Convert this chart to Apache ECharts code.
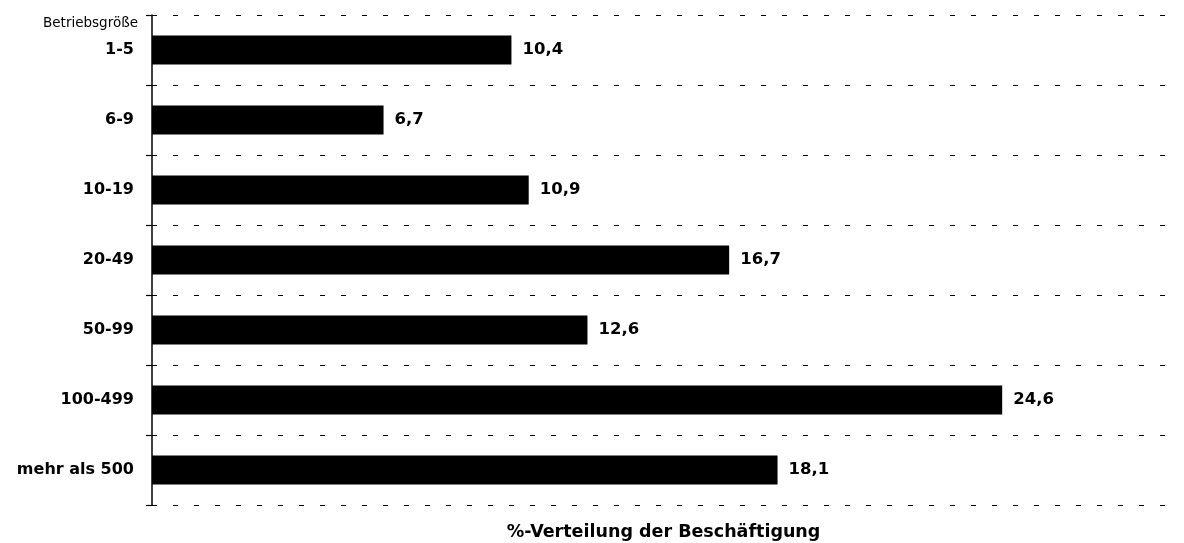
<!DOCTYPE html>
<html>
<head>
<meta charset="utf-8">
<script src="https://cdn.jsdelivr.net/npm/echarts@6/dist/echarts.min.js"></script>
<style>
	html, body { margin: 0; padding: 0; background: #fff; }
	#chart { width: 1184px; height: 543px; }
</style>
</head>
<body>
<div id="chart"></div>
<script>
// Betriebsgröße (Beschäftigte)
const categories = ["1-5", "6-9", "10-19", "20-49", "50-99", "100-499", "mehr als 500"];
// %-Verteilung der Beschäftigung
const shares = [10.4, 6.7, 10.9, 16.7, 12.6, 24.6, 18.1];

const font = "DejaVu Sans, Arial, sans-serif";

const chart = echarts.init(document.getElementById("chart"));
chart.setOption({
	animation: false,
	backgroundColor: "#fff",
	textStyle: { fontFamily: font, color: "#000" },
	graphic: [
		{
			type: "text",
			x: 138,
			y: 23,
			style: {
				text: "Betriebsgröße",
				textAlign: "right",
				textVerticalAlign: "middle",
				font: "13.5px " + font,
				fill: "#000",
			},
		},
	],
	grid: { left: 152, right: 9, top: 15, bottom: 38, outerBoundsMode: "none" },
	xAxis: {
		type: "value",
		min: 0,
		max: 29.6,
		name: "%-Verteilung der Beschäftigung",
		nameLocation: "middle",
		nameGap: 18,
		nameTextStyle: { fontSize: 17.5, fontWeight: "bold", color: "#000" },
		axisLine: { show: false },
		axisTick: { show: false },
		axisLabel: { show: false },
		splitLine: { show: false },
	},
	yAxis: {
		type: "category",
		inverse: true,
		data: categories,
		axisLine: { show: true, lineStyle: { color: "#000", width: 1.5 } },
		axisTick: { show: true, length: 6, lineStyle: { color: "#000", width: 1.2 } },
		axisLabel: { fontSize: 16, fontWeight: "bold", color: "#000", margin: 18 },
		splitLine: {
			show: true,
			lineStyle: { color: "#000", type: [5, 16], width: 1.2 },
		},
	},
	series: [
		{
			type: "bar",
			data: shares,
			barWidth: 29,
			itemStyle: { color: "#000" },
			label: {
				show: true,
				position: "right",
				distance: 11,
				fontSize: 16.5,
				fontWeight: "bold",
				color: "#000",
				formatter: (p) => p.value.toFixed(1).replace(".", ","),
			},
		},
	],
});
</script>
</body>
</html>
